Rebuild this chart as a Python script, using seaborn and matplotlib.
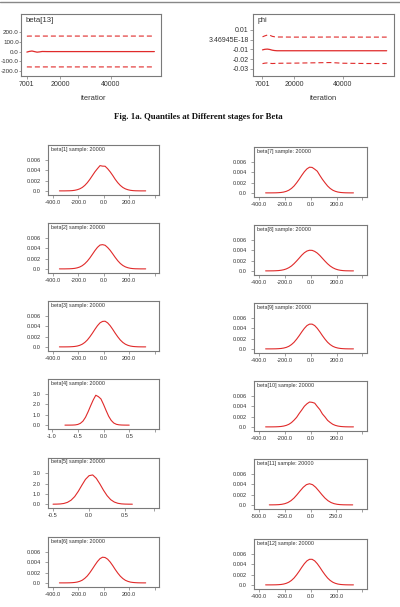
import matplotlib
matplotlib.use("Agg")
import matplotlib.pyplot as plt
from matplotlib.lines import Line2D
import seaborn as sns

# ---------------- data ----------------
iters = [7001, 8000, 9000, 10000, 11000, 12000, 13000, 15000, 20000, 30000, 35000, 40000, 50000, 57000]
beta13_lo = [-157, -157, -158, -157, -157, -157, -157, -157, -157, -157, -157, -157, -157, -157]
beta13_med = [-5, 2, 6, 0, -6, -3, 1, 0, 0, 0, 0, 0, 0, 0]
beta13_hi = [158, 159, 159, 159, 159, 159, 159, 159, 159, 159, 159, 159, 159, 159]

phi_iters = [7001, 8000, 9000, 10000, 11000, 12000, 13000, 15000, 20000, 30000, 35000, 40000, 50000, 58000]
phi_lo = [-0.0245, -0.0240, -0.0238, -0.0242, -0.0244, -0.0243, -0.0242, -0.0241, -0.0240, -0.0236, -0.0234, -0.0241, -0.0244, -0.0244]
phi_med = [-0.0104, -0.0098, -0.0096, -0.0100, -0.0107, -0.0111, -0.0113, -0.0113, -0.0113, -0.0113, -0.0113, -0.0113, -0.0113, -0.0113]
phi_hi = [0.0030, 0.0040, 0.0048, 0.0046, 0.0035, 0.0030, 0.0028, 0.0028, 0.0027, 0.0027, 0.0028, 0.0027, 0.0027, 0.0027]
phi_ticks = [0.01, 0.0, -0.01, -0.02, -0.03]
phi_ticklabels = ["0.01", "3.46945E-18", "-0.01", "-0.02", "-0.03"]
iter_ticks = [7001, 20000, 40000]

x_grid = [-350, -330, -310, -290, -270, -250, -230, -210, -190, -170, -150, -130, -110, -90, -70, -50, -30, -10,
          10, 30, 50, 70, 90, 110, 130, 150, 170, 190, 210, 230, 250, 270, 290, 310, 330]

beta1 = [0, 0, 0, 0.00001, 0.00002, 0.00005, 0.00011, 0.00022, 0.00039, 0.00066, 0.00106, 0.00159, 0.00224, 0.00297,
         0.0037, 0.00432, 0.0049, 0.0048, 0.00478, 0.0043, 0.0037, 0.0030, 0.00224, 0.00159, 0.00106, 0.00066, 0.00039,
         0.00022, 0.00011, 0.00005, 0.00002, 0.00001, 0, 0, 0]
beta2 = [0, 0, 0, 0.00001, 0.00002, 0.00005, 0.0001, 0.0002, 0.00036, 0.00062, 0.001, 0.0015, 0.00212, 0.00283,
         0.00355, 0.00418, 0.00462, 0.0047, 0.00458, 0.00415, 0.0036, 0.00292, 0.00222, 0.00158, 0.00105, 0.00066,
         0.00039, 0.00022, 0.00011, 0.00005, 0.00002, 0.00001, 0, 0, 0]
beta3 = [0, 0, 0, 0.000005, 0.000015, 0.00004, 0.00008, 0.00016, 0.0003, 0.00052, 0.00086, 0.00133, 0.00195, 0.00265,
         0.00341, 0.00411, 0.00466, 0.00494, 0.00498, 0.00466, 0.00411, 0.00341, 0.00265, 0.00195, 0.00133, 0.00086,
         0.00052, 0.0003, 0.00016, 0.00008, 0.00004, 0.000015, 0.000005, 0, 0]
beta6 = [0, 0, 0, 0.000005, 0.000015, 0.00004, 0.00008, 0.00016, 0.0003, 0.00052, 0.00088, 0.00135, 0.00198, 0.0027,
         0.00345, 0.00415, 0.0047, 0.00498, 0.00492, 0.0046, 0.00405, 0.00336, 0.0026, 0.0019, 0.0013, 0.00084,
         0.0005, 0.00029, 0.00015, 0.00008, 0.00004, 0.000015, 0.000005, 0, 0]
beta7 = [0, 0, 0, 0.000005, 0.000015, 0.00004, 0.00008, 0.00016, 0.0003, 0.00052, 0.00086, 0.00133, 0.00195, 0.00265,
         0.00341, 0.00411, 0.00466, 0.00498, 0.00494, 0.0046, 0.0042, 0.00338, 0.00262, 0.00195, 0.00133, 0.00086,
         0.00052, 0.0003, 0.00016, 0.00008, 0.00004, 0.000015, 0.000005, 0, 0]
beta8 = [0, 0, 0.000005, 0.00001, 0.00003, 0.00006, 0.00012, 0.00022, 0.00038, 0.00062, 0.00095, 0.0014, 0.00192,
         0.00248, 0.00305, 0.00352, 0.00385, 0.004, 0.00398, 0.00378, 0.00345, 0.00298, 0.00243, 0.00188, 0.00137,
         0.00094, 0.00061, 0.00037, 0.00021, 0.00011, 0.00005, 0.00002, 0.00001, 0, 0]
beta9 = [0, 0, 0, 0.000005, 0.000015, 0.00004, 0.00008, 0.00016, 0.00029, 0.0005, 0.00083, 0.00128, 0.00188, 0.00256,
         0.0033, 0.00398, 0.00452, 0.0048, 0.0048, 0.00452, 0.00398, 0.0033, 0.00256, 0.00188, 0.00128, 0.00083,
         0.0005, 0.00029, 0.00016, 0.00008, 0.00004, 0.000015, 0.000005, 0, 0]
beta10 = [0, 0, 0, 0.000005, 0.000015, 0.00004, 0.00008, 0.00016, 0.00029, 0.0005, 0.00083, 0.0013, 0.00185, 0.0026,
          0.00328, 0.004, 0.00448, 0.00482, 0.00476, 0.0046, 0.00395, 0.00335, 0.0025, 0.00192, 0.00126, 0.00085,
          0.0005, 0.00029, 0.00016, 0.00008, 0.00004, 0.000015, 0.000005, 0, 0]
beta12 = [0, 0, 0, 0.000005, 0.000015, 0.00004, 0.00008, 0.00016, 0.0003, 0.00052, 0.00086, 0.00133, 0.00195, 0.00265,
          0.00341, 0.00411, 0.00466, 0.00496, 0.00496, 0.00466, 0.00411, 0.00341, 0.00265, 0.00195, 0.00133, 0.00086,
          0.00052, 0.0003, 0.00016, 0.00008, 0.00004, 0.000015, 0.000005, 0, 0]

beta11_x = [-400, -370, -340, -310, -280, -250, -220, -190, -160, -130, -100, -70, -40, -10,
            20, 50, 80, 110, 140, 170, 200, 230, 260, 290, 320, 350, 380, 410]
beta11 = [0.000002, 0.000006, 0.000016, 0.000045, 0.000107, 0.00023, 0.00045, 0.00081, 0.00133, 0.002, 0.00273,
          0.00342, 0.00392, 0.0041, 0.00392, 0.00342, 0.00273, 0.002, 0.00133, 0.00081, 0.00045, 0.00023, 0.000107,
          0.000045, 0.000016, 0.000006, 0.000002, 0]

beta4_x = [-0.75, -0.70, -0.65, -0.60, -0.55, -0.50, -0.45, -0.40, -0.35, -0.30, -0.25, -0.20, -0.15, -0.10,
           -0.05, 0.0, 0.05, 0.10, 0.15, 0.20, 0.25, 0.30, 0.35, 0.40, 0.45, 0.50]
beta4 = [0, 0, 0.001, 0.006, 0.02, 0.065, 0.17, 0.38, 0.75, 1.27, 1.85, 2.4, 2.85, 2.72, 2.5, 1.98, 1.4, 0.85,
         0.45, 0.2, 0.08, 0.03, 0.01, 0.003, 0, 0]

beta5_x = [-0.50, -0.45, -0.40, -0.35, -0.30, -0.25, -0.20, -0.15, -0.10, -0.05, 0.0, 0.05, 0.10, 0.15, 0.20,
           0.25, 0.30, 0.35, 0.40, 0.45, 0.50, 0.55, 0.60]
beta5 = [0.002, 0.008, 0.025, 0.072, 0.18, 0.39, 0.74, 1.25, 1.85, 2.42, 2.78, 2.85, 2.52, 1.97, 1.36, 0.83, 0.44,
         0.21, 0.087, 0.032, 0.01, 0.003, 0.001]

dens_yticks = [0.0, 0.002, 0.004, 0.006]
dens_yticklabels = ["0.0", "0.002", "0.004", "0.006"]
dens_xticks = [-400, -200, 0, 200, 400]
dens_xticklabels = ["-400.0", "-200.0", "0.0", "200.0", ""]
b11_xticks = [-500, -250, 0, 250, 500]
b11_xticklabels = ["-500.0", "-250.0", "0.0", "250.0", ""]
b45_yticks = [0.0, 1.0, 2.0, 3.0]
b45_yticklabels = ["0.0", "1.0", "2.0", "3.0"]
b4_xticks = [-1.0, -0.5, 0.0, 0.5, 1.0]
b4_xticklabels = ["-1.0", "-0.5", "0.0", "0.5", ""]
b5_xticks = [-0.5, 0.0, 0.5, 0.9]
b5_xticklabels = ["-0.5", "0.0", "0.5", ""]

# ---------------- style ----------------
sns.set_theme(style="white")
plt.rcParams["font.family"] = ["Liberation Sans", "DejaVu Sans"]
RED = "#e02a2a"
EDGE = "#7a7a7a"
TXT = "#333333"
DASH = (0, (4.5, 2.7))

fig = plt.figure(figsize=(4.0, 6.07), dpi=100)
W, H = 400.0, 607.0


def px_ax(l, t, r, b):
    return fig.add_axes([l / W, 1 - b / H, (r - l) / W, (b - t) / H])


def style(ax, size, xpad, ypad, ysize=None, ylen=2):
    for s in ax.spines.values():
        s.set_color(EDGE)
        s.set_linewidth(0.8)
    ax.tick_params(axis="both", direction="out", length=2, width=0.5, color=EDGE,
                   labelsize=size, labelcolor=TXT, bottom=True, left=True)
    ax.tick_params(axis="x", pad=xpad)
    ax.tick_params(axis="y", pad=ypad, labelsize=ysize or size, length=ylen)
    ax.set_xlabel("")
    ax.set_ylabel("")


# page rule
fig.add_artist(Line2D([0, 1], [1 - 1.5 / H, 1 - 1.5 / H], color="#888888", lw=1.0))

# ---- beta[13] trace
ax = px_ax(21, 14, 161, 76)
sns.lineplot(x=iters, y=beta13_hi, ax=ax, color=RED, lw=0.8, linestyle=DASH)
sns.lineplot(x=iters, y=beta13_med, ax=ax, color=RED, lw=0.9)
sns.lineplot(x=iters, y=beta13_lo, ax=ax, color=RED, lw=0.8, linestyle=DASH)
ax.set_xlim(4700, 59600)
ax.set_ylim(-250, 385)
ax.set_yticks([200, 100, 0, -100, -200])
ax.set_yticklabels(["200.0", "100.0", "0.0", "-100.0", "-200.0"])
ax.set_xticks(iter_ticks)
ax.set_xticklabels(["7001", "20000", "40000"])
style(ax, 5.0, 1.5, 0.2, ysize=4.5, ylen=1.4)
ax.text(0.03, 0.95, "beta[13]", transform=ax.transAxes, va="top", ha="left", fontsize=5.6, color=TXT)
fig.text(93 / W, 1 - 99 / H, "iteratior", ha="center", va="center", fontsize=5.4, color=TXT)

# ---- phi trace
ax = px_ax(253, 14, 394, 76)
sns.lineplot(x=phi_iters, y=phi_hi, ax=ax, color=RED, lw=0.8, linestyle=DASH)
sns.lineplot(x=phi_iters, y=phi_med, ax=ax, color=RED, lw=0.9)
sns.lineplot(x=phi_iters, y=phi_lo, ax=ax, color=RED, lw=0.8, linestyle=DASH)
ax.set_xlim(3100, 61000)
ax.set_ylim(-0.0372, 0.0264)
ax.set_yticks(phi_ticks)
ax.set_yticklabels(phi_ticklabels)
ax.set_xticks(iter_ticks)
ax.set_xticklabels(["7001", "20000", "40000"])
style(ax, 5.0, 1.5, 1.0)
ax.text(0.03, 0.95, "phi", transform=ax.transAxes, va="top", ha="left", fontsize=5.2, color=TXT)
fig.text(323 / W, 1 - 99 / H, "iteration", ha="center", va="center", fontsize=5.4, color=TXT)

# caption
fig.text(198 / W, 1 - 117 / H, "Fig. 1a. Quantiles at Different stages for Beta", ha="center", va="center",
         fontsize=6.3, fontweight="bold", family=["Liberation Serif", "DejaVu Serif"], color="#111111")

# ---- density panels
left_tops = [145, 223, 301, 379, 458, 537]
right_tops = [147, 225, 303, 381, 459, 539]

panels_left = [
    ("beta[1] sample: 20000", x_grid, beta1, "std"),
    ("beta[2] sample: 20000", x_grid, beta2, "std"),
    ("beta[3] sample: 20000", x_grid, beta3, "std"),
    ("beta[4] sample: 20000", beta4_x, beta4, "b4"),
    ("beta[5] sample: 20000", beta5_x, beta5, "b5"),
    ("beta[6] sample: 20000", x_grid, beta6, "std"),
]
panels_right = [
    ("beta[7] sample: 20000", x_grid, beta7, "std"),
    ("beta[8] sample: 20000", x_grid, beta8, "std"),
    ("beta[9] sample: 20000", x_grid, beta9, "std"),
    ("beta[10] sample: 20000", x_grid, beta10, "std"),
    ("beta[11] sample: 20000", beta11_x, beta11, "b11"),
    ("beta[12] sample: 20000", x_grid, beta12, "std"),
]


def draw_density(l, r, t, title, xs, ys, kind):
    ax = px_ax(l, t, r, t + 50)
    sns.lineplot(x=xs, y=ys, ax=ax, color=RED, lw=0.8)
    if kind == "std":
        ax.set_xlim(-440, 435)
        ax.set_ylim(-0.0008, 0.0089)
        ax.set_xticks(dens_xticks)
        ax.set_xticklabels(dens_xticklabels)
        ax.set_yticks(dens_yticks)
        ax.set_yticklabels(dens_yticklabels)
    elif kind == "b11":
        ax.set_xlim(-549, 549)
        ax.set_ylim(-0.0008, 0.0089)
        ax.set_xticks(b11_xticks)
        ax.set_xticklabels(b11_xticklabels)
        ax.set_yticks(dens_yticks)
        ax.set_yticklabels(dens_yticklabels)
    elif kind == "b4":
        ax.set_xlim(-1.08, 1.08)
        ax.set_ylim(-0.37, 4.4)
        ax.set_xticks(b4_xticks)
        ax.set_xticklabels(b4_xticklabels)
        ax.set_yticks(b45_yticks)
        ax.set_yticklabels(b45_yticklabels)
    else:
        ax.set_xlim(-0.57, 0.97)
        ax.set_ylim(-0.37, 4.5)
        ax.set_xticks(b5_xticks)
        ax.set_xticklabels(b5_xticklabels)
        ax.set_yticks(b45_yticks)
        ax.set_yticklabels(b45_yticklabels)
    style(ax, 4.1, 1.5, 3.2)
    ax.text(0.025, 0.97, title, transform=ax.transAxes, va="top", ha="left", fontsize=3.9, color=TXT)


for t, (title, xs, ys, kind) in zip(left_tops, panels_left):
    draw_density(48, 159, t, title, xs, ys, kind)
for t, (title, xs, ys, kind) in zip(right_tops, panels_right):
    draw_density(254, 367, t, title, xs, ys, kind)

fig.savefig("out.png", dpi=100)
